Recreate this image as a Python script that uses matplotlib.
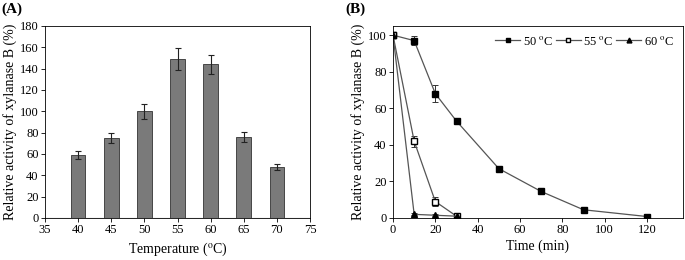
#!/usr/bin/env python3

import matplotlib.pyplot as plt
import numpy as np
from matplotlib.lines import Line2D

plt.rcParams['font.family'] = ['Liberation Serif', 'DejaVu Serif']
plt.rcParams['font.size'] = 9
plt.rcParams['mathtext.fontset'] = 'stix'

# panel A: temperature profile
temps = [40, 45, 50, 55, 60, 65, 70]
activity = [59, 75, 100, 149, 144, 76, 48]
activity_err = [4, 5, 7, 10, 9, 5, 3]

# panel B: thermostability over time
t50 = [0, 10, 20, 30, 50, 70, 90, 120]
y50 = [100, 97, 68, 53, 27, 14.5, 4.5, 0.8]
e50 = [0, 2.5, 4.5, 0.8, 0.5, 0.5, 0.5, 0.3]
t55 = [0, 10, 20, 30]
y55 = [100, 42, 9, 1]
e55 = [0, 3, 2.5, 0.5]
t60 = [0, 10, 20, 30]
y60 = [100, 2, 1.5, 1]
e60 = [0, 0.5, 0.5, 0.5]

fig = plt.figure(figsize=(6.85, 2.6), dpi=100)

# ---- (A)
ax1 = fig.add_axes([45/685, 1-218/260, 265/685, 192/260])
ax1.bar(temps, activity, width=2.2, color='#7a7a7a', edgecolor='#333333',
        linewidth=0.6, yerr=activity_err, capsize=2,
        error_kw=dict(elinewidth=0.8, capthick=0.8, ecolor='#222222'))
ax1.axhline(0, color='#777777', lw=0.8)
ax1.set_xlim(35, 75)
ax1.set_ylim(0, 180)
ax1.set_xticks(np.arange(35, 76, 5))
ax1.set_yticks(np.arange(0, 181, 20))
ax1.set_xlabel(r'Temperature ($^{\rm o}$C)', labelpad=3, fontsize=10)
ax1.set_ylabel('Relative activity of xylanase B (%)', labelpad=2, fontsize=10)
ax1.tick_params(length=3, width=0.6, pad=1.5, labelsize=9)
for s in ax1.spines.values():
    s.set_linewidth(0.6)
fig.text(1/685, 1-3/260, '(A)', fontsize=11, fontweight='bold', va='top')

# ---- (B)
ax2 = fig.add_axes([393/685, 1-218/260, 290/685, 192/260])
line_kw = dict(color='#555555', lw=0.9, ms=4.5, mec='black', elinewidth=0.7,
               ecolor='#333333', capsize=2, capthick=0.7)
ax2.errorbar(t50, y50, yerr=e50, marker='s', mfc='black', **line_kw)
ax2.errorbar(t55, y55, yerr=e55, marker='s', mfc='white', **line_kw)
ax2.errorbar(t60, y60, yerr=e60, marker='^', mfc='black', **line_kw)
ax2.set_xlim(0, 137)
ax2.set_ylim(0, 105)
ax2.set_xticks(np.arange(0, 121, 20))
ax2.set_yticks(np.arange(0, 101, 20))
ax2.set_xlabel('Time (min)', labelpad=2, fontsize=10)
ax2.set_ylabel('Relative activity of xylanase B (%)', labelpad=2, fontsize=10)
ax2.tick_params(length=3, width=0.6, pad=1.5, labelsize=9)
for s in ax2.spines.values():
    s.set_linewidth(0.6)
handles = [
    Line2D([], [], color='#555555', lw=0.9, marker='s', ms=3.5, mfc='black', mec='black'),
    Line2D([], [], color='#555555', lw=0.9, marker='s', ms=3.5, mfc='white', mec='black'),
    Line2D([], [], color='#555555', lw=0.9, marker='^', ms=3.5, mfc='black', mec='black'),
]
ax2.legend(handles, ['50 $^{\\rm o}$C', '55 $^{\\rm o}$C', '60 $^{\\rm o}$C'],
           loc='upper right', ncol=3, frameon=False, handlelength=2.0,
           handletextpad=0.2, columnspacing=0.2, borderaxespad=0.3, fontsize=9)
fig.text(345/685, 1-3/260, '(B)', fontsize=11, fontweight='bold', va='top')

fig.savefig('out.png', dpi=100)
